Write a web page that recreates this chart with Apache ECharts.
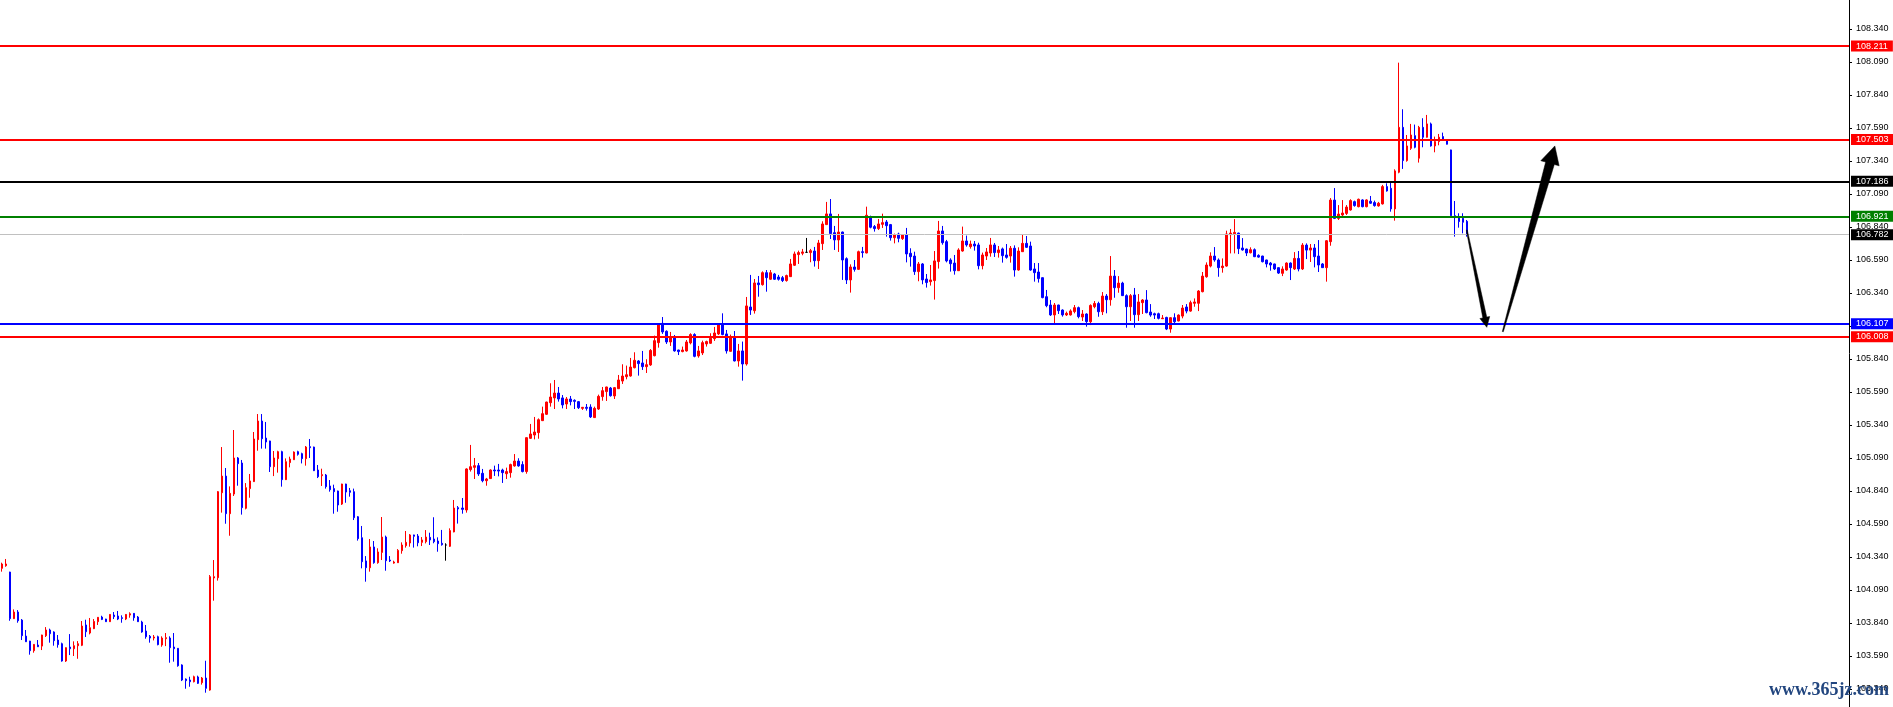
<!DOCTYPE html>
<html><head><meta charset="utf-8">
<script src="https://cdn.jsdelivr.net/npm/echarts@6/dist/echarts.min.js"></script>
<style>html,body{margin:0;padding:0;background:#fff}#c{width:1893px;height:707px}</style>
</head><body><div id="c"></div>
<script>
// [open, close, low, high]
const candles = [
[104.254,104.287,104.229,104.297],[104.274,104.287,104.266,104.325],[104.226,103.873,103.857,104.228],[103.873,103.923,103.870,103.943],[103.923,103.857,103.842,103.938],
[103.862,103.744,103.711,103.870],[103.741,103.698,103.696,103.787],[103.703,103.630,103.600,103.705],[103.630,103.678,103.615,103.680],[103.673,103.660,103.658,103.711],
[103.665,103.749,103.635,103.751],[103.744,103.787,103.734,103.809],[103.787,103.759,103.691,103.797],[103.772,103.706,103.668,103.777],[103.711,103.676,103.653,103.749],
[103.683,103.552,103.547,103.691],[103.552,103.653,103.545,103.655],[103.658,103.645,103.597,103.756],[103.645,103.668,103.590,103.701],[103.668,103.683,103.569,103.703],
[103.671,103.817,103.665,103.855],[103.825,103.774,103.734,103.865],[103.764,103.804,103.754,103.878],[103.797,103.852,103.794,103.870],[103.850,103.883,103.825,103.885],
[103.885,103.867,103.862,103.895],[103.870,103.850,103.848,103.872],[103.850,103.905,103.848,103.907],[103.900,103.888,103.870,103.923],[103.893,103.870,103.862,103.931],
[103.880,103.875,103.842,103.898],[103.870,103.905,103.862,103.908],[103.900,103.910,103.880,103.921],[103.913,103.880,103.857,103.915],[103.885,103.850,103.848,103.893],
[103.847,103.772,103.766,103.857],[103.779,103.736,103.721,103.825],[103.739,103.726,103.691,103.749],[103.726,103.734,103.708,103.749],[103.736,103.676,103.671,103.744],
[103.673,103.726,103.660,103.739],[103.721,103.729,103.665,103.764],[103.726,103.653,103.539,103.739],[103.658,103.645,103.547,103.764],[103.648,103.516,103.509,103.650],
[103.522,103.408,103.400,103.527],[103.415,103.403,103.342,103.420],[103.408,103.395,103.357,103.433],[103.395,103.433,103.390,103.441],[103.431,103.383,103.378,103.441],
[103.388,103.423,103.373,103.431],[103.423,103.345,103.312,103.554],[103.332,104.191,103.327,104.203],[104.181,104.191,104.009,104.317],[104.183,104.835,104.161,104.840],
[104.827,104.953,104.676,105.173],[104.953,104.668,104.592,105.014],[104.668,104.822,104.501,104.875],[104.817,105.090,104.802,105.302],[105.090,105.047,104.880,105.097],
[105.052,104.714,104.661,105.075],[104.709,104.865,104.701,104.900],[104.858,104.916,104.789,104.969],[104.911,105.234,104.908,105.287],[105.229,105.370,105.145,105.423],
[105.370,105.236,105.161,105.423],[105.241,105.211,105.161,105.363],[105.219,105.024,104.984,105.221],[105.024,105.090,104.953,105.143],[105.085,105.138,104.979,105.145],
[105.138,104.926,104.873,105.145],[104.926,105.062,104.923,105.087],[105.055,105.082,105.019,105.100],[105.077,105.135,105.075,105.140],[105.138,105.118,105.108,105.145],
[105.123,105.085,105.049,105.130],[105.085,105.173,105.032,105.181],[105.176,105.168,105.090,105.234],[105.173,104.994,104.991,105.176],[104.999,104.948,104.938,105.037],
[104.956,104.964,104.878,105.009],[104.961,104.873,104.858,104.969],[104.878,104.850,104.835,104.923],[104.858,104.835,104.668,104.888],[104.840,104.734,104.683,104.843],
[104.741,104.893,104.734,104.895],[104.893,104.832,104.751,104.895],[104.842,104.830,104.797,104.863],[104.835,104.638,104.620,104.858],[104.645,104.479,104.464,104.650],
[104.486,104.304,104.254,104.575],[104.310,104.259,104.153,104.347],[104.259,104.416,104.229,104.476],[104.416,104.297,104.289,104.461],[104.297,104.378,104.289,104.406],
[104.375,104.491,104.317,104.643],[104.491,104.312,104.236,104.502],[104.317,104.310,104.302,104.347],[104.294,104.302,104.289,104.312],[104.297,104.390,104.295,104.400],
[104.388,104.431,104.365,104.451],[104.426,104.451,104.411,104.537],[104.446,104.507,104.418,104.514],[104.507,104.497,104.411,104.509],[104.499,104.448,104.421,104.514],
[104.451,104.469,104.423,104.491],[104.456,104.491,104.443,104.544],[104.489,104.469,104.431,104.524],[104.476,104.456,104.444,104.641],[104.461,104.441,104.380,104.489],
[104.444,104.433,104.426,104.545],[104.431,104.431,104.312,104.444],[104.421,104.540,104.416,104.557],[104.530,104.711,104.527,104.772],[104.714,104.704,104.593,104.726],
[104.711,104.701,104.668,104.787],[104.696,105.007,104.676,105.012],[105.002,105.024,104.987,105.189],[105.019,105.032,104.931,105.090],[105.032,104.969,104.954,105.052],
[104.974,104.918,104.906,105.007],[104.918,104.931,104.880,104.939],[104.934,104.999,104.931,105.004],[104.999,104.992,104.954,105.032],[104.999,104.991,104.951,105.045],
[104.999,104.979,104.901,105.009],[104.971,104.987,104.931,105.017],[104.979,105.040,104.941,105.047],[105.030,105.067,105.024,105.120],[105.067,105.030,105.024,105.088],
[105.040,104.987,104.981,105.065],[104.987,105.244,104.971,105.246],[105.239,105.272,105.234,105.348],[105.264,105.287,105.231,105.401],[105.282,105.380,105.236,105.390],
[105.373,105.426,105.370,105.479],[105.421,105.514,105.416,105.516],[105.509,105.552,105.479,105.656],[105.545,105.582,105.461,105.681],[105.582,105.537,105.517,105.628],
[105.545,105.492,105.466,105.567],[105.499,105.537,105.461,105.552],[105.537,105.517,105.489,105.560],[105.527,105.519,105.461,105.534],[105.517,105.471,105.461,105.522],
[105.466,105.474,105.454,105.476],[105.474,105.466,105.449,105.499],[105.476,105.401,105.393,105.497],[105.396,105.466,105.393,105.479],[105.461,105.557,105.454,105.570],
[105.555,105.600,105.524,105.628],[105.593,105.628,105.522,105.630],[105.620,105.562,105.555,105.628],[105.560,105.623,105.537,105.628],[105.615,105.681,105.613,105.719],
[105.673,105.711,105.651,105.800],[105.706,105.721,105.686,105.790],[105.711,105.779,105.706,105.848],[105.774,105.830,105.769,105.891],[105.825,105.805,105.714,105.832],
[105.810,105.782,105.757,105.901],[105.782,105.797,105.734,105.838],[105.795,105.905,105.788,105.915],[105.865,105.979,105.860,106.017],[105.964,106.103,105.926,106.110],
[106.110,106.045,106.030,106.158],[106.050,105.969,105.954,106.057],[105.969,106.009,105.939,106.045],[106.009,105.901,105.896,106.022],[105.908,105.896,105.870,105.910],
[105.896,105.908,105.891,105.934],[105.901,105.969,105.896,105.984],[105.962,106.025,105.951,106.035],[106.025,105.860,105.853,106.035],[105.863,105.901,105.850,105.939],
[105.886,105.964,105.870,105.979],[105.954,105.972,105.934,105.979],[105.959,105.997,105.954,106.035],[105.994,106.037,105.977,106.083],[106.030,106.103,106.022,106.110],
[106.108,106.025,106.020,106.186],[106.030,105.901,105.881,106.060],[105.898,106.009,105.896,106.025],[106.009,105.825,105.822,106.052],[105.825,105.901,105.782,105.954],
[105.901,105.802,105.676,105.972],[105.802,106.242,105.790,106.310],[106.234,106.211,106.174,106.477],[106.206,106.416,106.184,106.446],[106.416,106.403,106.312,106.469],
[106.403,106.494,106.396,106.504],[106.494,106.456,106.350,106.514],[106.444,106.494,106.439,106.514],[106.484,106.444,106.439,106.492],[106.461,106.444,106.434,106.477],
[106.456,106.434,106.423,106.469],[106.434,106.472,106.426,106.479],[106.464,106.560,106.461,106.598],[106.550,106.636,106.545,106.654],[106.631,106.646,106.560,106.661],
[106.641,106.651,106.626,106.674],[106.648,106.648,106.646,106.757],[106.646,106.661,106.573,106.674],[106.658,106.585,106.540,106.689],[106.585,106.719,106.522,106.742],
[106.714,106.863,106.666,106.883],[106.858,106.939,106.855,107.030],[106.939,106.790,106.749,107.052],[106.797,106.742,106.666,106.848],[106.742,106.802,106.651,106.939],
[106.802,106.590,106.439,106.805],[106.600,106.439,106.408,106.610],[106.439,106.537,106.343,106.557],[106.537,106.519,106.502,106.590],[106.519,106.653,106.514,106.661],
[106.653,106.646,106.608,106.689],[106.643,106.929,106.641,106.994],[106.918,106.838,106.830,106.926],[106.843,106.828,106.805,106.855],[106.828,106.863,106.817,106.901],
[106.860,106.873,106.833,106.941],[106.878,106.850,106.767,106.893],[106.858,106.759,106.737,106.863],[106.759,106.780,106.716,106.790],[106.787,106.754,106.724,106.797],
[106.752,106.782,106.742,106.787],[106.780,106.636,106.572,106.833],[106.641,106.615,106.540,106.679],[106.620,106.502,106.477,106.653],[106.502,106.560,106.429,106.575],
[106.560,106.439,106.406,106.567],[106.446,106.419,106.381,106.484],[106.426,106.439,106.396,106.552],[106.434,106.583,106.290,106.658],[106.578,106.810,106.525,106.886],
[106.810,106.721,106.706,106.848],[106.729,106.583,106.572,106.742],[106.590,106.562,106.502,106.603],[106.567,106.509,106.479,106.628],[106.509,106.666,106.507,106.679],
[106.658,106.734,106.653,106.843],[106.734,106.704,106.691,106.775],[106.691,106.711,106.676,106.737],[106.711,106.696,106.661,106.734],[106.704,106.547,106.519,106.721],
[106.547,106.628,106.519,106.646],[106.620,106.651,106.590,106.681],[106.643,106.704,106.615,106.757],[106.704,106.646,106.613,106.719],[106.646,106.666,106.608,106.696],
[106.674,106.623,106.570,106.684],[106.628,106.610,106.600,106.711],[106.620,106.679,106.570,106.696],[106.679,106.514,106.464,106.701],[106.514,106.658,106.509,106.686],
[106.653,106.716,106.651,106.787],[106.716,106.686,106.681,106.772],[106.696,106.514,106.509,106.729],[106.522,106.494,106.426,106.567],[106.499,106.449,106.419,106.567],
[106.456,106.305,106.300,106.458],[106.312,106.244,106.232,106.363],[106.249,106.174,106.166,106.287],[106.174,106.249,106.110,106.264],[106.249,106.206,106.181,106.251],
[106.211,106.174,106.161,106.216],[106.174,106.186,106.166,106.199],[106.174,106.204,106.169,106.216],[106.199,106.229,106.186,106.249],[106.229,106.161,106.148,106.237],
[106.158,106.181,106.128,106.211],[106.181,106.123,106.085,106.186],[106.122,106.246,106.097,106.254],[106.236,106.261,106.224,106.279],[106.261,106.198,106.160,106.274],
[106.198,106.317,106.173,106.347],[106.317,106.289,106.186,106.332],[106.289,106.468,106.244,106.620],[106.468,106.380,106.304,106.514],[106.380,106.415,106.342,106.468],
[106.415,106.320,106.317,106.425],[106.320,106.236,106.077,106.330],[106.236,106.320,106.128,106.332],[106.325,106.176,106.077,106.378],[106.176,106.272,106.128,106.332],
[106.267,106.287,106.181,106.294],[106.287,106.191,106.186,106.362],[106.196,106.173,106.160,106.256],[106.183,106.173,106.143,106.191],[106.183,106.148,106.140,106.191],
[106.145,106.150,106.143,106.173],[106.155,106.067,106.059,106.160],[106.067,106.153,106.039,106.155],[106.153,106.122,106.105,106.186],[106.128,106.173,106.125,106.178],
[106.165,106.226,106.148,106.249],[106.234,106.203,106.186,106.256],[106.203,106.267,106.198,106.282],[106.262,106.272,106.236,106.299],[106.262,106.355,106.203,106.362],
[106.350,106.468,106.345,106.499],[106.463,106.552,106.456,106.572],[106.544,106.620,106.534,106.648],[106.620,106.590,106.577,106.688],[106.590,106.532,106.463,106.602],
[106.532,106.544,106.494,106.602],[106.544,106.787,106.539,106.812],[106.782,106.794,106.640,106.825],[106.789,106.799,106.640,106.900],[106.794,106.676,106.635,106.797],
[106.681,106.666,106.661,106.756],[106.673,106.643,106.620,106.676],[106.645,106.668,106.640,106.686],[106.668,106.615,106.612,106.678],[106.625,106.612,106.607,106.633],
[106.620,106.577,106.572,106.622],[106.590,106.560,106.534,106.592],[106.567,106.552,106.509,106.575],[106.560,106.522,106.514,106.562],[106.532,106.491,106.484,106.534],
[106.489,106.522,106.468,106.542],[106.514,106.567,106.509,106.572],[106.567,106.532,106.438,106.572],[106.522,106.602,106.514,106.650],[106.602,106.522,106.504,106.658],
[106.522,106.703,106.514,106.718],[106.703,106.665,106.597,106.716],[106.665,106.681,106.575,106.711],[106.681,106.615,106.534,106.711],[106.620,106.552,106.499,106.741],
[106.560,106.532,106.530,106.567],[106.532,106.736,106.426,106.741],[106.729,107.044,106.698,107.059],[107.044,106.905,106.900,107.135],[106.905,106.938,106.893,107.006],
[106.931,106.946,106.923,107.044],[106.943,106.991,106.931,107.006],[106.969,107.040,106.964,107.050],[107.032,107.002,106.994,107.040],[106.994,107.050,106.989,107.055],
[107.045,106.994,106.989,107.050],[106.994,107.045,106.989,107.050],[107.035,107.020,107.015,107.075],[107.025,107.002,106.994,107.040],[107.000,107.020,106.994,107.030],
[107.015,107.146,107.010,107.159],[107.146,107.113,107.108,107.171],[107.133,106.977,106.956,107.184],[106.977,107.265,106.888,107.277],[107.255,107.595,107.247,108.085],
[107.595,107.343,107.280,107.732],[107.343,107.454,107.335,107.537],[107.436,107.537,107.424,107.621],[107.532,107.444,107.436,107.616],[107.361,107.595,107.328,107.606],
[107.595,107.520,107.444,107.664],[107.520,107.621,107.517,107.689],[107.621,107.454,107.449,107.631],[107.454,107.487,107.406,107.525],[107.487,107.520,107.459,107.545],
[107.525,107.499,107.494,107.555],[107.499,107.467,107.465,107.504],[107.424,106.926,106.924,107.426],[106.926,106.911,106.767,107.037],[106.911,106.881,106.835,106.944],
[106.906,106.876,106.792,106.944],[106.883,106.782,106.767,106.893]
];
const slotCount = 462; // bar slots across the plot, incl. empty space on the right
const yTicks = [108.34,108.09,107.84,107.59,107.34,107.09,106.84,106.59,106.34,106.09,105.84,105.59,105.34,105.09,104.84,104.59,104.34,104.09,103.84,103.59,103.34];
const yRange = [103.2036, 108.5597];
const levels = [108.211, 107.503, 107.186, 106.921, 106.782, 106.107, 106.008];
const arrowStarts = [[366, 106.817], [375, 106.047]];
const arrowEnds = [[371, 106.080], [388, 107.454]];
const watermark = 'www.365jz.com';

// styles
const levelLine = ['#ff0000','#ff0000','#000000','#008000','#c0c0c0','#0000ff','#ff0000'];
const levelBox  = ['#ff0000','#ff0000','#000000','#008000','#000000','#0000ff','#ff0000'];
const levelWidth = [2,2,2,2,1,2,2];
const arrowShape = [{w0:0.5,w1:2,head:10,hw:5},{w0:0.5,w1:4.5,head:18,hw:9.5}];

const categories = [];
for (let i = 0; i < slotCount; i++) categories.push('b' + i);

const chart = echarts.init(document.getElementById('c'), null, {renderer: 'canvas'});
chart.setOption({
  animation: false,
  backgroundColor: '#ffffff',
  grid: {left: 0, right: 44, top: 0, bottom: 0, containLabel: false},
  xAxis: {
    type: 'category', data: categories, boundaryGap: true,
    axisLine: {show: false}, axisTick: {show: false}, axisLabel: {show: false}, splitLine: {show: false}
  },
  yAxis: {
    type: 'value', position: 'right', min: yRange[0], max: yRange[1], scale: true,
    splitLine: {show: false},
    axisLine: {show: true, lineStyle: {color: '#000000', width: 1}},
    axisTick: {show: true, length: 3, inside: false, customValues: yTicks, lineStyle: {color: '#000000'}},
    axisLabel: {
      show: true, customValues: yTicks, margin: 7, color: '#000000', fontSize: 9,
      fontFamily: 'Liberation Sans', formatter: v => v.toFixed(3)
    }
  },
  series: [
    {
      type: 'candlestick', data: candles, barWidth: 2, large: false,
      itemStyle: {color: '#ff0000', color0: '#0000ff', borderColor: '#ff0000', borderColor0: '#0000ff', borderColorDoji: '#000000', borderWidth: 1},
      emphasis: {disabled: true},
      markLine: {
        silent: true, symbol: 'none', precision: 3, animation: false,
        data: levels.map((v, i) => ({
          yAxis: v,
          lineStyle: {color: levelLine[i], width: levelWidth[i], type: 'solid'},
          label: {
            show: true, position: 'end', distance: 2, formatter: () => v.toFixed(3),
            color: '#ffffff', backgroundColor: levelBox[i], padding: [1, 5, 1, 5],
            fontSize: 9, fontFamily: 'Liberation Sans', lineHeight: 9
          }
        }))
      },
      z: 3
    },
    {
      type: 'custom', silent: true, z: 5,
      data: arrowStarts.map((s, i) => [s[0], s[1], arrowEnds[i][0], arrowEnds[i][1]]),
      encode: {x: [0, 2], y: [1, 3]},
      renderItem: (params, api) => {
        const p0 = api.coord([api.value(0), api.value(1)]);
        const p1 = api.coord([api.value(2), api.value(3)]);
        const s = arrowShape[params.dataIndex];
        const dx = p1[0] - p0[0], dy = p1[1] - p0[1];
        const len = Math.sqrt(dx * dx + dy * dy);
        const ux = dx / len, uy = dy / len, nx = -uy, ny = ux;
        const bx = p1[0] - ux * s.head, by = p1[1] - uy * s.head;
        const pts = [
          [p0[0] + nx * s.w0, p0[1] + ny * s.w0],
          [bx + nx * s.w1, by + ny * s.w1],
          [bx + nx * s.hw, by + ny * s.hw],
          [p1[0], p1[1]],
          [bx - nx * s.hw, by - ny * s.hw],
          [bx - nx * s.w1, by - ny * s.w1],
          [p0[0] - nx * s.w0, p0[1] - ny * s.w0]
        ];
        return {type: 'polygon', shape: {points: pts}, style: {fill: '#000000', stroke: '#000000', lineWidth: 0.5}};
      }
    }
  ],
  graphic: [{
    type: 'text', z: 100, x: 1769, y: 690,
    style: {text: watermark, font: 'bold 18px "Liberation Serif"', fill: '#22467f', verticalAlign: 'middle', align: 'left'}
  }]
});
</script></body></html>
